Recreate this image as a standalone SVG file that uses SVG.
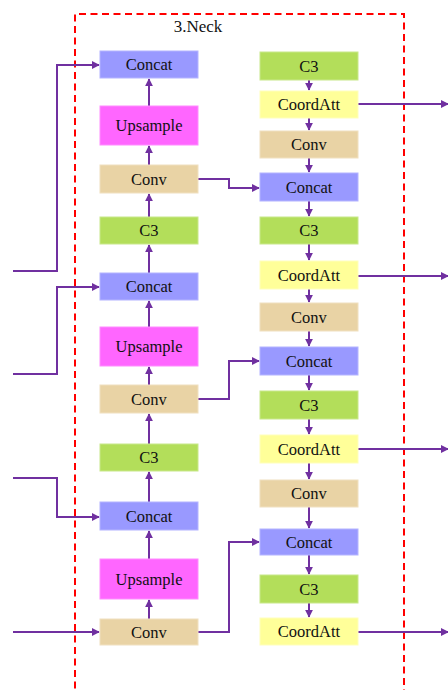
<svg xmlns="http://www.w3.org/2000/svg" width="448" height="690" viewBox="0 0 448 690" font-family="'Liberation Serif', 'Times New Roman', serif">
<style>
text{font-family:'Liberation Serif','Times New Roman',serif;font-size:16.5px;fill:#111;text-anchor:middle;dominant-baseline:central}
.concat{fill:#9999ff;stroke:#b4b4ff;stroke-width:1}
.up{fill:#ff66ff;stroke:#ff8cff;stroke-width:1}
.conv{fill:#e9d3a5;stroke:#f0e0c0;stroke-width:1}
.c3{fill:#b3de5a;stroke:#c8e88a;stroke-width:1}
.ca{fill:#ffff99;stroke:#ffffbb;stroke-width:1}
.ln{fill:none;stroke:#7030a0;stroke-width:2}
.arr{marker-end:url(#ah)}
</style>
<defs>
<marker id="ah" viewBox="0 0 10 10" refX="9" refY="5" markerWidth="8" markerHeight="8" markerUnits="userSpaceOnUse" orient="auto">
<path d="M0,0 L10,5 L0,10 z" fill="#7030a0"/>
</marker>
</defs>
<rect width="448" height="690" fill="#fff"/>
<g id="neck-frame">
<path d="M75,700 L75,14 L404,14 L404,700" fill="none" stroke="#ff0000" stroke-width="2" stroke-dasharray="7,4.5"/>
<text x="198" y="26" font-family="'Liberation Serif', serif" style="font-size:17px">3.Neck</text>
</g>
<g id="connectors">
<path class="ln arr" d="M149,106 L149,79"/>
<path class="ln arr" d="M149,165 L149,146"/>
<path class="ln arr" d="M149,217 L149,194"/>
<path class="ln arr" d="M149,273 L149,245"/>
<path class="ln arr" d="M149,327 L149,301"/>
<path class="ln arr" d="M149,385 L149,367"/>
<path class="ln arr" d="M149,444 L149,414"/>
<path class="ln arr" d="M149,502 L149,472"/>
<path class="ln arr" d="M149,559 L149,531"/>
<path class="ln arr" d="M149,619 L149,600"/>
<path class="ln arr" d="M13,271 L57,271 L57,65 L99,65"/>
<path class="ln arr" d="M13,374 L57,374 L57,287 L99,287"/>
<path class="ln arr" d="M13,478 L57,478 L57,517 L99,517"/>
<path class="ln arr" d="M13,632 L99,632"/>
<path class="ln arr" d="M198,179 L229,179 L229,188 L259,188"/>
<path class="ln arr" d="M198,399 L229,399 L229,361 L259,361"/>
<path class="ln arr" d="M198,632 L229,632 L229,542 L259,542"/>
<path class="ln arr" d="M309,80 L309,90"/>
<path class="ln arr" d="M309,118 L309,130"/>
<path class="ln arr" d="M309,158 L309,172"/>
<path class="ln arr" d="M309,201 L309,216"/>
<path class="ln arr" d="M309,244 L309,260"/>
<path class="ln arr" d="M309,289 L309,302"/>
<path class="ln arr" d="M309,331 L309,346"/>
<path class="ln arr" d="M309,375 L309,390"/>
<path class="ln arr" d="M309,419 L309,434"/>
<path class="ln arr" d="M309,463 L309,479"/>
<path class="ln arr" d="M309,507 L309,528"/>
<path class="ln arr" d="M309,555 L309,574"/>
<path class="ln arr" d="M309,603 L309,617"/>
<path class="ln arr" d="M358,104 L448,104"/>
<path class="ln arr" d="M358,276 L448,276"/>
<path class="ln arr" d="M358,449 L448,449"/>
<path class="ln arr" d="M358,632 L448,632"/>
</g>
<g id="L-concat1"><rect class="concat" x="100" y="51" width="98" height="27"/><text x="149" y="64.5">Concat</text></g>
<g id="L-upsample1"><rect class="up" x="100" y="106" width="98" height="39"/><text x="149" y="125.5">Upsample</text></g>
<g id="L-conv1"><rect class="conv" x="100" y="165" width="98" height="28"/><text x="149" y="179">Conv</text></g>
<g id="L-c3-1"><rect class="c3" x="100" y="217" width="98" height="27"/><text x="149" y="230.5">C3</text></g>
<g id="L-concat2"><rect class="concat" x="100" y="273" width="98" height="27"/><text x="149" y="286.5">Concat</text></g>
<g id="L-upsample2"><rect class="up" x="100" y="327" width="98" height="39"/><text x="149" y="346.5">Upsample</text></g>
<g id="L-conv2"><rect class="conv" x="100" y="385" width="98" height="28"/><text x="149" y="399">Conv</text></g>
<g id="L-c3-2"><rect class="c3" x="100" y="444" width="98" height="27"/><text x="149" y="457.5">C3</text></g>
<g id="L-concat3"><rect class="concat" x="100" y="502" width="98" height="28"/><text x="149" y="516">Concat</text></g>
<g id="L-upsample3"><rect class="up" x="100" y="559" width="98" height="40"/><text x="149" y="579">Upsample</text></g>
<g id="L-conv3"><rect class="conv" x="100" y="619" width="98" height="26"/><text x="149" y="632">Conv</text></g>
<g id="R-c3-1"><rect class="c3" x="260" y="52" width="98" height="28"/><text x="309" y="66">C3</text></g>
<g id="R-ca1"><rect class="ca" x="260" y="91" width="98" height="27"/><text x="309" y="104.5">CoordAtt</text></g>
<g id="R-conv1"><rect class="conv" x="260" y="131" width="98" height="27"/><text x="309" y="144.5">Conv</text></g>
<g id="R-concat1"><rect class="concat" x="260" y="173" width="98" height="28"/><text x="309" y="187">Concat</text></g>
<g id="R-c3-2"><rect class="c3" x="260" y="217" width="98" height="27"/><text x="309" y="230.5">C3</text></g>
<g id="R-ca2"><rect class="ca" x="260" y="261" width="98" height="28"/><text x="309" y="275">CoordAtt</text></g>
<g id="R-conv2"><rect class="conv" x="260" y="303" width="98" height="28"/><text x="309" y="317">Conv</text></g>
<g id="R-concat2"><rect class="concat" x="260" y="347" width="98" height="28"/><text x="309" y="361">Concat</text></g>
<g id="R-c3-3"><rect class="c3" x="260" y="391" width="98" height="28"/><text x="309" y="405">C3</text></g>
<g id="R-ca3"><rect class="ca" x="260" y="435" width="98" height="28"/><text x="309" y="449">CoordAtt</text></g>
<g id="R-conv3"><rect class="conv" x="260" y="480" width="98" height="27"/><text x="309" y="493.5">Conv</text></g>
<g id="R-concat3"><rect class="concat" x="260" y="529" width="98" height="26"/><text x="309" y="542">Concat</text></g>
<g id="R-c3-4"><rect class="c3" x="260" y="575" width="98" height="28"/><text x="309" y="589">C3</text></g>
<g id="R-ca4"><rect class="ca" x="260" y="618" width="98" height="27"/><text x="309" y="631.5">CoordAtt</text></g>
</svg>
